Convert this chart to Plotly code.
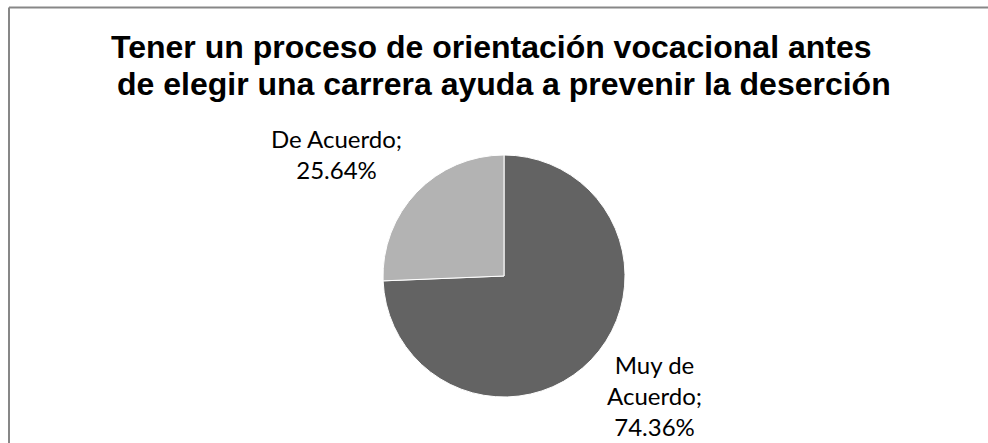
import plotly.graph_objects as go

# data
labels = ["Muy de Acuerdo", "De Acuerdo"]
values = [74.36, 25.64]
colors = ["#636363", "#b3b3b3"]
title_lines = ["Tener un proceso de orientación vocacional antes",
               "de elegir una carrera ayuda a prevenir la deserción"]

W, H = 988, 443

fig = go.Figure()

fig.add_trace(go.Pie(
    labels=labels,
    values=values,
    sort=False,
    direction="clockwise",
    rotation=0,
    marker=dict(colors=colors, line=dict(color="white", width=1)),
    textinfo="none",
    hoverinfo="label+percent",
    showlegend=False,
    domain=dict(x=[(504 - 121) / W, (504 + 121) / W],
                y=[1 - 397 / H, 1 - 155 / H]),
))

# data labels (text built from the series)
label_text = {
    "Muy de Acuerdo": "Muy de<br>Acuerdo;<br>%.2f%%" % values[0],
    "De Acuerdo": "De Acuerdo;<br>%.2f%%" % values[1],
}
label_pos = {
    "Muy de Acuerdo": (654, 395),
    "De Acuerdo": (336, 154),
}
for name in labels:
    px, py = label_pos[name]
    fig.add_annotation(
        x=px / W, y=1 - py / H, xref="paper", yref="paper",
        text=label_text[name], showarrow=False,
        xanchor="center", yanchor="middle", align="center",
        font=dict(family="Lato, Open Sans, sans-serif", size=24, color="black"),
    )

# title, one annotation per line to keep the tight line spacing
title_pos = [(491, 47), (504, 84)]
for line, (px, py) in zip(title_lines, title_pos):
    fig.add_annotation(
        x=px / W, y=1 - py / H, xref="paper", yref="paper",
        text="<b>" + line + "</b>", showarrow=False,
        xanchor="center", yanchor="middle",
        font=dict(family="Liberation Sans, Arial, sans-serif", size=32, color="black"),
    )

# chart border (only left and top edges fall inside the picture)
fig.add_shape(type="line", xref="paper", yref="paper",
              x0=9 / W, x1=9 / W, y0=0, y1=1 - 7.5 / H,
              line=dict(color="#878787", width=2))
fig.add_shape(type="line", xref="paper", yref="paper",
              x0=9 / W, x1=1, y0=1 - 7.5 / H, y1=1 - 7.5 / H,
              line=dict(color="#878787", width=2))

fig.update_layout(
    width=W, height=H,
    margin=dict(l=0, r=0, t=0, b=0),
    paper_bgcolor="white",
    plot_bgcolor="white",
)

fig.write_html("out.html", config={"displayModeBar": False},
               post_script="document.body.style.margin='0';")
